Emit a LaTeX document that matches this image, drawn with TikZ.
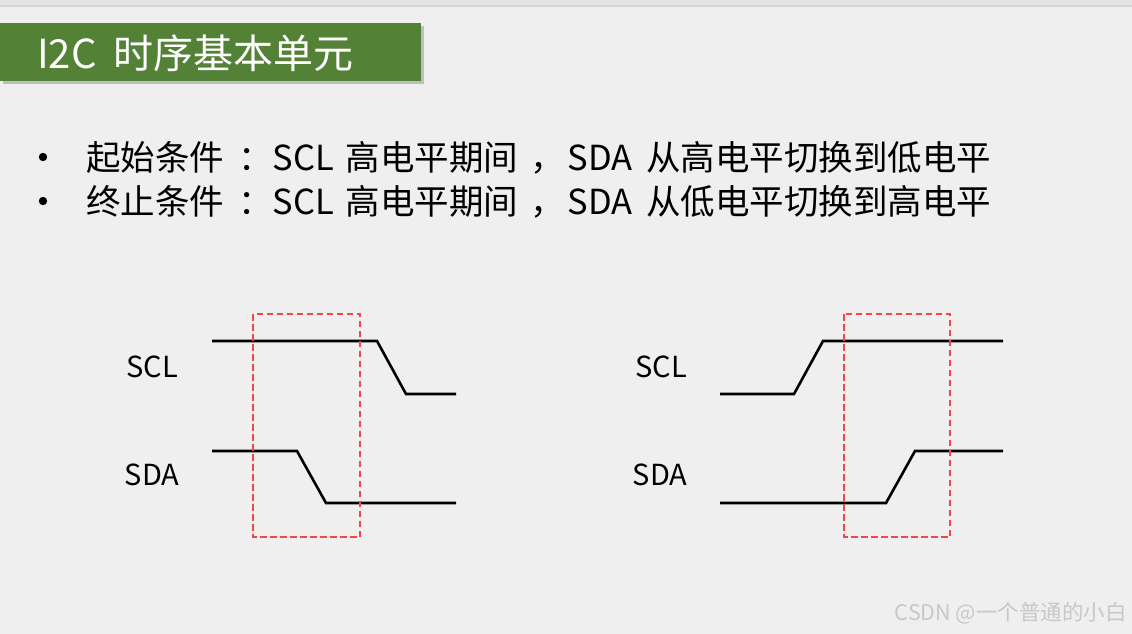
\documentclass[tikz,border=0pt]{standalone}
\usepackage{fontspec}
\setmainfont{Noto Sans CJK SC}
\definecolor{pagebg}{HTML}{EFEFEF}
\definecolor{topstrip}{HTML}{E4E4E4}
\definecolor{titlegreen}{HTML}{538135}
\definecolor{boxred}{HTML}{F04848}
\definecolor{markgray}{HTML}{C8C8C8}
\newcommand{\colsep}[1]{\hspace{14pt}：#1\hspace{4pt}}
\newcommand{\comsep}[1]{\hspace{12pt}，\hspace{3pt}#1\hspace{6pt}}
\tikzset{
  wave/.style={line width=2.6pt,black,line join=miter},
  window/.style={draw=boxred,line width=1.2pt,dash pattern=on 6.5pt off 3.5pt},
  sig/.style={font=\fontsize{29}{29}\selectfont,inner sep=0pt},
  bullet/.style={anchor=base west,inner sep=0pt,font=\fontsize{34.5}{34.5}\selectfont},
}
\begin{document}
\begin{tikzpicture}[x=1pt,y=-1pt]
\useasboundingbox (0,0) rectangle (1132,634);
\fill[pagebg] (0,0) rectangle (1132,634);
\fill[topstrip] (0,0) rectangle (1132,5);
\fill[black!16] (0,5) rectangle (1132,7);
% title bar
\fill[black!25] (3,26) rectangle (424,84);
\fill[titlegreen] (0,23) rectangle (421,81);
\node[anchor=base west,inner sep=0pt,text=white,font=\fontsize{40}{40}\selectfont] (title) at (37,68) {I2C\hspace{8pt} 时序基本单元};
% bullets
\fill (43,157) circle (4.2);
\fill (43,201) circle (4.2);
\node[bullet] (cond1) at (86,170) {起始条件\colsep{SCL} 高电平期间\comsep{SDA} 从高电平切换到低电平};
\node[bullet] (cond2) at (86,214) {终止条件\colsep{SCL} 高电平期间\comsep{SDA} 从低电平切换到高电平};
% start condition
\node[sig] (sclA) at (152,367) {SCL};
\node[sig] (sdaA) at (152,475) {SDA};
\draw[wave] (212,341) -- (377,341) -- (406,394) -- (456,394);
\draw[wave] (212,451) -- (297,451) -- (326,503) -- (456,503);
\draw[window] (253,314) rectangle (360,537);
% stop condition
\node[sig] (sclB) at (661,367) {SCL};
\node[sig] (sdaB) at (660,475) {SDA};
\draw[wave] (720,394) -- (794,394) -- (823,341) -- (1003,341);
\draw[wave] (720,503) -- (886,503) -- (915,451) -- (1003,451);
\draw[window] (844,314) rectangle (950,537);
% watermark
\node[anchor=base east,inner sep=0pt,text=markgray,font=\fontsize{21.5}{21.5}\selectfont] (mark) at (1127,620) {CSDN @一个普通的小白};
\end{tikzpicture}
\end{document}
